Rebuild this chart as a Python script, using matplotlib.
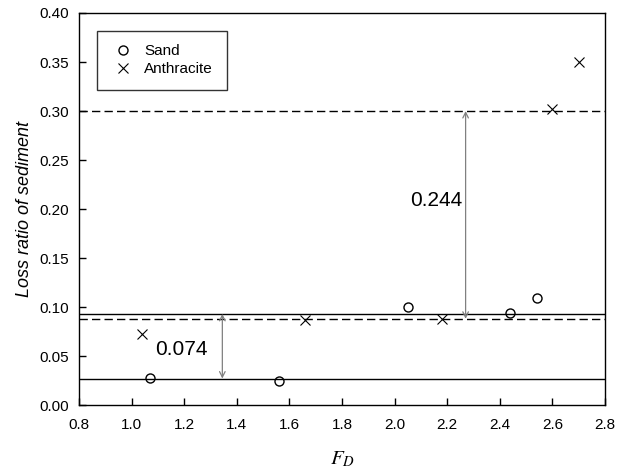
import matplotlib
matplotlib.use("Agg")
import matplotlib.pyplot as plt

plt.rcParams['font.family'] = ['Liberation Sans', 'DejaVu Sans']
plt.rcParams['mathtext.fontset'] = 'stix'

# data
sand_fd = [1.07, 1.56, 2.05, 2.44, 2.54]
sand_loss = [0.028, 0.025, 0.100, 0.094, 0.109]
anth_fd = [1.04, 1.66, 2.18, 2.60, 2.70]
anth_loss = [0.072, 0.087, 0.088, 0.302, 0.350]

# reference levels (solid = sand, dashed = anthracite)
sand_lines = [0.027, 0.093]
anth_lines = [0.088, 0.300]
gap_x = [1.345, 2.27]
gap_labels = ['0.074', '0.244']

fig = plt.figure(figsize=(6.25, 4.71), dpi=100)
ax = fig.add_axes([0.1264, 0.1401, 0.8416, 0.8323])

ax.plot(sand_fd, sand_loss, 'o', ms=6.5, mfc='white', mec='black', mew=1.0, ls='none', label='Sand')
ax.plot(anth_fd, anth_loss, 'x', ms=7, color='black', mew=0.8, ls='none', label='Anthracite')

for y in sand_lines:
    ax.axhline(y, color='black', lw=1.0)
for y in anth_lines:
    ax.axhline(y, color='black', lw=1.0, ls=(0, (6, 3)))

# gap arrows
ax.annotate('', xy=(gap_x[0], sand_lines[0]), xytext=(gap_x[0], sand_lines[1]),
            arrowprops=dict(arrowstyle='<->', color='gray', lw=0.9, shrinkA=0, shrinkB=0))
ax.annotate('', xy=(gap_x[1], anth_lines[0]), xytext=(gap_x[1], anth_lines[1]),
            arrowprops=dict(arrowstyle='<->', color='gray', lw=0.9, shrinkA=0, shrinkB=0))
ax.text(1.09, 0.057, gap_labels[0], fontsize=15, va='center', ha='left')
ax.text(2.06, 0.209, gap_labels[1], fontsize=15, va='center', ha='left')

ax.set_xlim(0.8, 2.8)
ax.set_ylim(0.0, 0.40)
ax.set_xticks([0.8, 1.0, 1.2, 1.4, 1.6, 1.8, 2.0, 2.2, 2.4, 2.6, 2.8])
ax.set_yticks([0.0, 0.05, 0.10, 0.15, 0.20, 0.25, 0.30, 0.35, 0.40])
ax.set_xticklabels(['0.8', '1.0', '1.2', '1.4', '1.6', '1.8', '2.0', '2.2', '2.4', '2.6', '2.8'])
ax.set_yticklabels(['0.00', '0.05', '0.10', '0.15', '0.20', '0.25', '0.30', '0.35', '0.40'])
ax.tick_params(direction='in', length=5, width=1, labelsize=11)
ax.tick_params(axis='x', pad=9)
ax.tick_params(axis='y', pad=7)
for s in ax.spines.values():
    s.set_linewidth(1.0)

ax.set_ylabel('Loss ratio of sediment', fontsize=13, style='italic', labelpad=5)
ax.set_xlabel('$F_D$', fontsize=15, labelpad=13)

leg = ax.legend(loc='upper left', bbox_to_anchor=(0.034, 0.955), fontsize=11,
                frameon=True, fancybox=False, edgecolor='black', borderpad=0.9,
                handlelength=1.6, handletextpad=0.6, borderaxespad=0, labelspacing=0.25)
leg.get_frame().set_linewidth(1.0)

fig.savefig('out.png', dpi=100)
